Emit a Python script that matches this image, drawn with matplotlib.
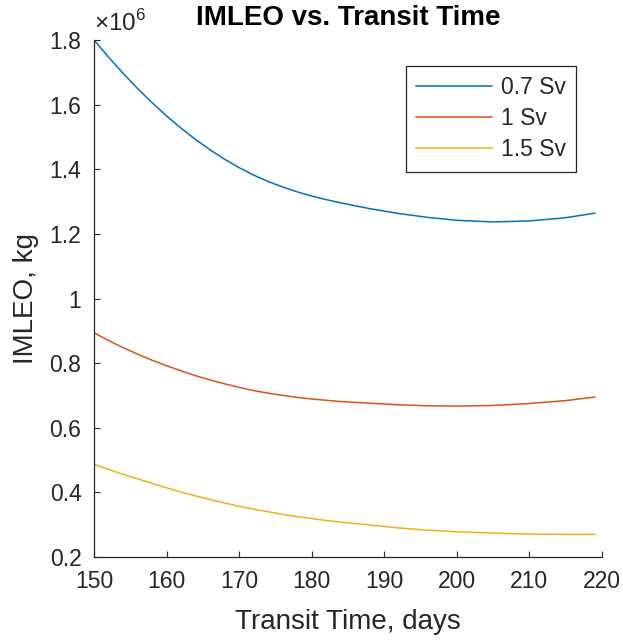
import numpy as np
import matplotlib
matplotlib.use("Agg")
import matplotlib.pyplot as plt
from matplotlib.ticker import FuncFormatter


# ============================================================
# data, IMLEO in 10^6 kg
# ============================================================
transit_days = [150, 152, 154, 156, 158, 160, 162, 164, 166, 168,
                170, 172, 174, 176, 178, 180, 182, 184,
                188, 192, 196, 200, 205, 210, 215, 219]

imleo_07sv = [1.800, 1.747, 1.697, 1.650, 1.606, 1.565, 1.527, 1.492, 1.460,
              1.431, 1.405, 1.382, 1.362, 1.345, 1.330, 1.317, 1.306, 1.296,
              1.278, 1.263, 1.251, 1.242, 1.237, 1.240, 1.250, 1.264]
imleo_1sv = [0.894, 0.870, 0.848, 0.828, 0.809, 0.792, 0.776, 0.761, 0.748,
             0.736, 0.725, 0.715, 0.707, 0.700, 0.694, 0.689, 0.685, 0.681,
             0.676, 0.671, 0.668, 0.667, 0.669, 0.675, 0.684, 0.695]
imleo_15sv = [0.487, 0.471, 0.456, 0.442, 0.428, 0.414, 0.401, 0.389, 0.378,
              0.367, 0.357, 0.348, 0.340, 0.332, 0.325, 0.319, 0.313, 0.308,
              0.299, 0.290, 0.283, 0.278, 0.274, 0.271, 0.270, 0.270]

series_labels = ["0.7 Sv", "1 Sv", "1.5 Sv"]
x_ticks = [150, 160, 170, 180, 190, 200, 210, 220]
y_ticks = [0.2e6, 0.4e6, 0.6e6, 0.8e6, 1.0e6, 1.2e6, 1.4e6, 1.6e6, 1.8e6]

# MATLAB default colours
COLORS = ["#0072BD", "#D95319", "#EDB120"]
AX_COLOR = "#262626"

plt.rcParams["font.family"] = ["Liberation Sans", "DejaVu Sans"]
plt.rcParams["mathtext.fontset"] = "custom"
plt.rcParams["mathtext.rm"] = "Liberation Sans"


# ============================================================
# plot
# ============================================================
fig = plt.figure(figsize=(6.23, 6.40), dpi=100)
ax = fig.add_axes([94 / 623, 83 / 640, 508 / 623, 517 / 640])

x = np.array(transit_days)
for ys, lab, c in zip([imleo_07sv, imleo_1sv, imleo_15sv], series_labels, COLORS):
    ax.plot(x, np.array(ys) * 1e6, color=c, lw=1.1, label=lab)

ax.set_xlim(150, 220)
ax.set_ylim(0.2e6, 1.8e6)
ax.set_xticks(x_ticks)
ax.set_yticks(y_ticks)
ax.yaxis.set_major_formatter(FuncFormatter(lambda v, p: f"{v / 1e6:g}"))

for s in ["top", "right"]:
    ax.spines[s].set_visible(False)
for s in ["left", "bottom"]:
    ax.spines[s].set_color(AX_COLOR)
    ax.spines[s].set_linewidth(0.9)

ax.tick_params(direction="in", length=4, width=0.8, colors=AX_COLOR,
               labelsize=16.5, pad=9)

# exponent label like MATLAB
ax.text(0.0, 1.008, r"$\times10^{6}$", transform=ax.transAxes,
        ha="left", va="bottom", fontsize=17.5, color=AX_COLOR)

ax.set_xlabel("Transit Time, days", fontsize=20, color=AX_COLOR, labelpad=12)
ax.set_ylabel("IMLEO, kg", fontsize=20, color=AX_COLOR, labelpad=8)
ax.set_title("IMLEO vs. Transit Time", fontsize=20, fontweight="bold",
             color="black", pad=11)

leg = ax.legend(loc="upper right", bbox_to_anchor=(0.949, 0.950),
                borderaxespad=0, fontsize=16.5, fancybox=False,
                framealpha=1, edgecolor=AX_COLOR, handlelength=3.3,
                labelspacing=0.35, borderpad=0.45, handletextpad=0.4)
leg.get_frame().set_linewidth(0.9)
for t in leg.get_texts():
    t.set_color(AX_COLOR)

fig.savefig("out.png", dpi=100)
